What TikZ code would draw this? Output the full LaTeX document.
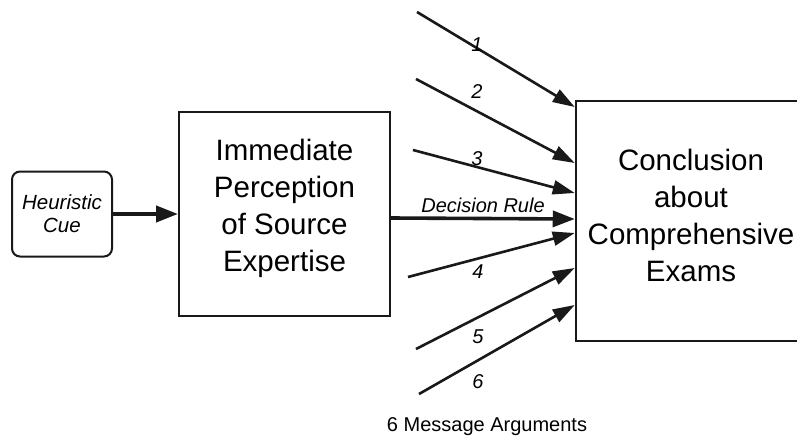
\documentclass[tikz,border=0pt]{standalone}
\usepackage{fontspec}
\setmainfont{Liberation Sans}
\usetikzlibrary{arrows.meta}
\begin{document}
\begin{tikzpicture}[x=1pt,y=-1pt,
  box/.style={draw=black!90, line width=2pt, inner sep=0pt},
  big/.style={font=\fontsize{29.5}{37}\selectfont, align=center, inner sep=0pt},
  lab/.style={font=\fontsize{20}{23}\selectfont\itshape, inner sep=0pt},
  msg/.style={draw=black!90, line width=2.6pt, -{Triangle[length=22pt,width=14pt]}},
  fat/.style={draw=black!90, line width=4pt, -{Triangle[length=22pt,width=16pt]}}
]
\fill[white] (0,0) rectangle (797,439);
\useasboundingbox (0,0) rectangle (797,439);

% boxes
\node[box, rounded corners=8pt, minimum width=100pt, minimum height=85pt,
      font=\fontsize{20.5}{23}\selectfont\itshape, align=center] (cue) at (62,214) {Heuristic\\Cue};
\node[box, minimum width=211pt, minimum height=204pt] (imm) at (284.5,214) {};
\node[big] (immtext) at (284.5,208.5) {Immediate\\Perception\\of Source\\Expertise};
\node[box, line width=2.5pt, minimum width=230pt, minimum height=240pt] (concl) at (691,221) {};
\node[big] (concltext) at (691,215.5) {Conclusion\\about\\Comprehensive\\Exams};

% free ends of the message arguments
\coordinate (s1) at (417,12);
\coordinate (s2) at (416,79);
\coordinate (s3) at (413,150);
\coordinate (s4) at (408,277);
\coordinate (s5) at (416,349);
\coordinate (s6) at (419,394);

% connectors
\draw[fat] (cue.east) -- (imm.west);
\draw[fat, line width=3.6pt] (imm.east |- 0,218) -- (concl.west |- 0,219);
\draw[msg] (s1) -- (concl.west |- 0,107);
\draw[msg] (s2) -- (concl.west |- 0,163);
\draw[msg] (s3) -- (concl.west |- 0,193);
\draw[msg] (s4) -- (concl.west |- 0,233);
\draw[msg] (s5) -- (concl.west |- 0,268);
\draw[msg] (s6) -- (concl.west |- 0,305);

% labels
\node[lab] (l1) at (477,45) {1};
\node[lab] (l2) at (477,92) {2};
\node[lab] (l3) at (477,159) {3};
\node[lab] (ldr) at (483,205) {Decision Rule};
\node[lab] (l4) at (478,272) {4};
\node[lab] (l5) at (478,337) {5};
\node[lab] (l6) at (478,382) {6};
\node[font=\fontsize{20}{23}\selectfont, inner sep=0pt] (cap) at (487,427) {6 Message Arguments};
\end{tikzpicture}
\end{document}
